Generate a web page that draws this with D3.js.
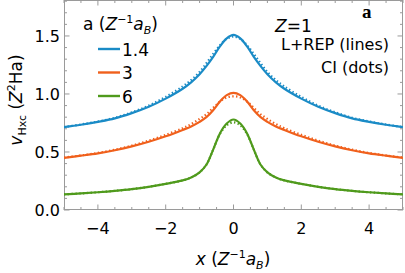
<!DOCTYPE html>
<html>
<head>
<meta charset="utf-8">
<script src="https://cdn.jsdelivr.net/npm/d3@7"></script>
<style>
  body { margin: 0; background: #fff; }
  svg { display: block; font-family: "DejaVu Sans", Arial, sans-serif; }
  .frame line { stroke: #9a9a9a; }
</style>
</head>
<body>
<svg width="405" height="273"></svg>
<script>
// x grid shared by all curves (Z^-1 a_B)
const xs = [-5, -4.5, -4, -3.5, -3, -2.5, -2, -1.5, -1.25, -1, -0.8, -0.6, -0.4, -0.2, 0,
             0.2, 0.4, 0.6, 0.8, 1, 1.25, 1.5, 2, 2.5, 3, 3.5, 4, 4.5, 5];

// L+REP (lines)
const lineA14 = [0.715, 0.735, 0.76, 0.79, 0.835, 0.89, 0.96, 1.045, 1.10, 1.17, 1.24, 1.32, 1.41, 1.48, 1.51,
                 1.48, 1.41, 1.32, 1.24, 1.17, 1.10, 1.045, 0.96, 0.89, 0.835, 0.79, 0.76, 0.735, 0.715];
const lineA3  = [0.45, 0.468, 0.488, 0.515, 0.548, 0.588, 0.635, 0.69, 0.72, 0.76, 0.80, 0.86, 0.935, 0.99, 1.01,
                 0.99, 0.935, 0.86, 0.80, 0.76, 0.72, 0.69, 0.635, 0.588, 0.548, 0.515, 0.488, 0.468, 0.45];
const lineA6  = [0.135, 0.143, 0.153, 0.165, 0.18, 0.20, 0.225, 0.255, 0.28, 0.325, 0.39, 0.52, 0.66, 0.745, 0.78,
                 0.745, 0.66, 0.52, 0.39, 0.325, 0.28, 0.255, 0.225, 0.20, 0.18, 0.165, 0.153, 0.143, 0.135];

// CI (dots)
const dotsA14 = [0.715, 0.737, 0.763, 0.795, 0.842, 0.90, 0.975, 1.065, 1.12, 1.19, 1.265, 1.345, 1.42, 1.475, 1.495,
                 1.475, 1.42, 1.345, 1.265, 1.19, 1.12, 1.065, 0.975, 0.90, 0.842, 0.795, 0.763, 0.737, 0.715];
const dotsA3  = [0.452, 0.47, 0.492, 0.52, 0.555, 0.598, 0.648, 0.705, 0.74, 0.785, 0.825, 0.88, 0.935, 0.97, 0.98,
                 0.97, 0.935, 0.88, 0.825, 0.785, 0.74, 0.705, 0.648, 0.598, 0.555, 0.52, 0.492, 0.47, 0.452];
const dotsA6  = [0.135, 0.143, 0.153, 0.165, 0.18, 0.20, 0.225, 0.255, 0.28, 0.325, 0.39, 0.52, 0.655, 0.73, 0.755,
                 0.73, 0.655, 0.52, 0.39, 0.325, 0.28, 0.255, 0.225, 0.20, 0.18, 0.165, 0.153, 0.143, 0.135];

const aLabels = ['1.4', '3', '6'];
const colors = ['#1a8bc6', '#f0601c', '#4f9a1c'];
const xTicks = [-4, -2, 0, 2, 4];
const yTicks = [0, 0.5, 1, 1.5];

const series = aLabels.map((a, i) => ({
    a,
    color: colors[i],
    line: [lineA14, lineA3, lineA6][i],
    dots: [dotsA14, dotsA3, dotsA6][i]
}));

const svg = d3.select('svg');
const mLeft = 64, mRight = 403, mTop = 0, mBottom = 210;

const x = d3.scaleLinear().domain([-5, 5]).range([mLeft, mRight]);
const y = d3.scaleLinear().domain([0, 1.81]).range([mBottom, mTop]);

const line = d3.line()
    .x((d, i) => x(xs[i]))
    .y(d => y(d))
    .curve(d3.curveCatmullRom.alpha(0.5));

svg.append('defs').append('clipPath')
    .attr('id', 'plot-clip')
    .append('rect')
        .attr('x', mLeft).attr('y', mTop)
        .attr('width', mRight - mLeft).attr('height', mBottom - mTop);

// frame with inward ticks on all four sides
const frame = svg.append('g').attr('class', 'frame');
frame.append('rect')
    .attr('x', mLeft + 0.5).attr('y', mTop + 0.5)
    .attr('width', mRight - mLeft - 1).attr('height', mBottom - mTop - 1)
    .attr('fill', 'none')
    .attr('stroke', '#9a9a9a');

const xMinor = d3.range(-5, 5.01, 0.5).filter(v => !xTicks.includes(v));
const yMinor = d3.range(0, 1.81, 0.1).map(v => +v.toFixed(1)).filter(v => !yTicks.includes(v));

const tickMarks = (vals, len) => {
    vals.forEach(v => {
        frame.append('line').attr('x1', x(v)).attr('x2', x(v)).attr('y1', mBottom).attr('y2', mBottom - len);
        frame.append('line').attr('x1', x(v)).attr('x2', x(v)).attr('y1', mTop).attr('y2', mTop + len);
    });
};
tickMarks(xTicks, 5.5);
tickMarks(xMinor, 3);

const yTickMarks = (vals, len) => {
    vals.forEach(v => {
        frame.append('line').attr('x1', mLeft).attr('x2', mLeft + len).attr('y1', y(v)).attr('y2', y(v));
        frame.append('line').attr('x1', mRight).attr('x2', mRight - len).attr('y1', y(v)).attr('y2', y(v));
    });
};
yTickMarks(yTicks, 5.5);
yTickMarks(yMinor, 3);

// tick labels
svg.append('g').selectAll('text')
    .data(xTicks)
    .join('text')
        .attr('x', d => x(d))
        .attr('y', 234)
        .attr('text-anchor', 'middle')
        .attr('font-size', 16)
        .text(d => d3.format('')(d).replace('-', '\u2212'));

svg.append('g').selectAll('text')
    .data(yTicks)
    .join('text')
        .attr('x', 60)
        .attr('y', d => y(d) + 6)
        .attr('text-anchor', 'end')
        .attr('font-size', 16)
        .text(d => d3.format('.1f')(d));

// curves
const plot = svg.append('g').attr('clip-path', 'url(#plot-clip)');

plot.selectAll('.ci')
    .data(series)
    .join('path')
        .attr('class', 'ci')
        .attr('fill', 'none')
        .attr('stroke', d => d.color)
        .attr('stroke-width', 2.2)
        .attr('stroke-dasharray', '1.4,2.4')
        .attr('d', d => line(d.dots));

plot.selectAll('.lrep')
    .data(series)
    .join('path')
        .attr('class', 'lrep')
        .attr('fill', 'none')
        .attr('stroke', d => d.color)
        .attr('stroke-width', 2.2)
        .attr('d', d => line(d.line));

// legend
const legendTitle = svg.append('text')
    .attr('x', 83).attr('y', 30)
    .attr('font-size', 17);
legendTitle.append('tspan').text('a (');
legendTitle.append('tspan').attr('font-style', 'italic').text('Z');
legendTitle.append('tspan').attr('font-size', 11).attr('dy', -7).text('\u22121');
legendTitle.append('tspan').attr('font-style', 'italic').attr('dy', 7).text('a');
legendTitle.append('tspan').attr('font-style', 'italic').attr('font-size', 11).attr('dy', 4).text('B');
legendTitle.append('tspan').attr('dy', -4).text(')');

const legend = svg.append('g').selectAll('g')
    .data(series)
    .join('g')
        .attr('transform', (d, i) => `translate(98, ${49 + i * 23.5})`);
legend.append('line')
    .attr('x1', 0).attr('x2', 22)
    .attr('stroke', d => d.color)
    .attr('stroke-width', 2.4);
legend.append('text')
    .attr('x', 24).attr('y', 6.5)
    .attr('font-size', 17)
    .text(d => d.a);

// annotations
const zText = svg.append('text').attr('x', 275).attr('y', 32).attr('font-size', 17);
zText.append('tspan').attr('font-style', 'italic').text('Z');
zText.append('tspan').text('=1');

svg.append('text')
    .attr('x', 389).attr('y', 50)
    .attr('text-anchor', 'end')
    .attr('font-size', 16)
    .text('L+REP (lines)');
svg.append('text')
    .attr('x', 389).attr('y', 73)
    .attr('text-anchor', 'end')
    .attr('font-size', 16)
    .text('CI (dots)');

svg.append('text')
    .attr('x', 362).attr('y', 18)
    .attr('font-family', '"Liberation Serif", "DejaVu Serif", serif')
    .attr('font-weight', 'bold')
    .attr('font-size', 19)
    .text('a');

// axis titles
const xTitle = svg.append('text')
    .attr('x', 233).attr('y', 265)
    .attr('text-anchor', 'middle')
    .attr('font-size', 17);
xTitle.append('tspan').attr('font-style', 'italic').text('x');
xTitle.append('tspan').text(' (');
xTitle.append('tspan').attr('font-style', 'italic').text('Z');
xTitle.append('tspan').attr('font-size', 11).attr('dy', -7).text('\u22121');
xTitle.append('tspan').attr('font-style', 'italic').attr('dy', 7).text('a');
xTitle.append('tspan').attr('font-style', 'italic').attr('font-size', 11).attr('dy', 4).text('B');
xTitle.append('tspan').attr('dy', -4).text(')');

const yTitle = svg.append('text')
    .attr('transform', 'translate(22, 100) rotate(-90)')
    .attr('text-anchor', 'middle')
    .attr('font-size', 17);
yTitle.append('tspan').attr('font-style', 'italic').text('v');
yTitle.append('tspan').attr('font-size', 11).attr('dy', 4).text('Hxc');
yTitle.append('tspan').attr('dy', -4).text(' (');
yTitle.append('tspan').attr('font-style', 'italic').text('Z');
yTitle.append('tspan').attr('font-size', 11).attr('dy', -7).text('2');
yTitle.append('tspan').attr('dy', 7).text('Ha)');
</script>
</body>
</html>
